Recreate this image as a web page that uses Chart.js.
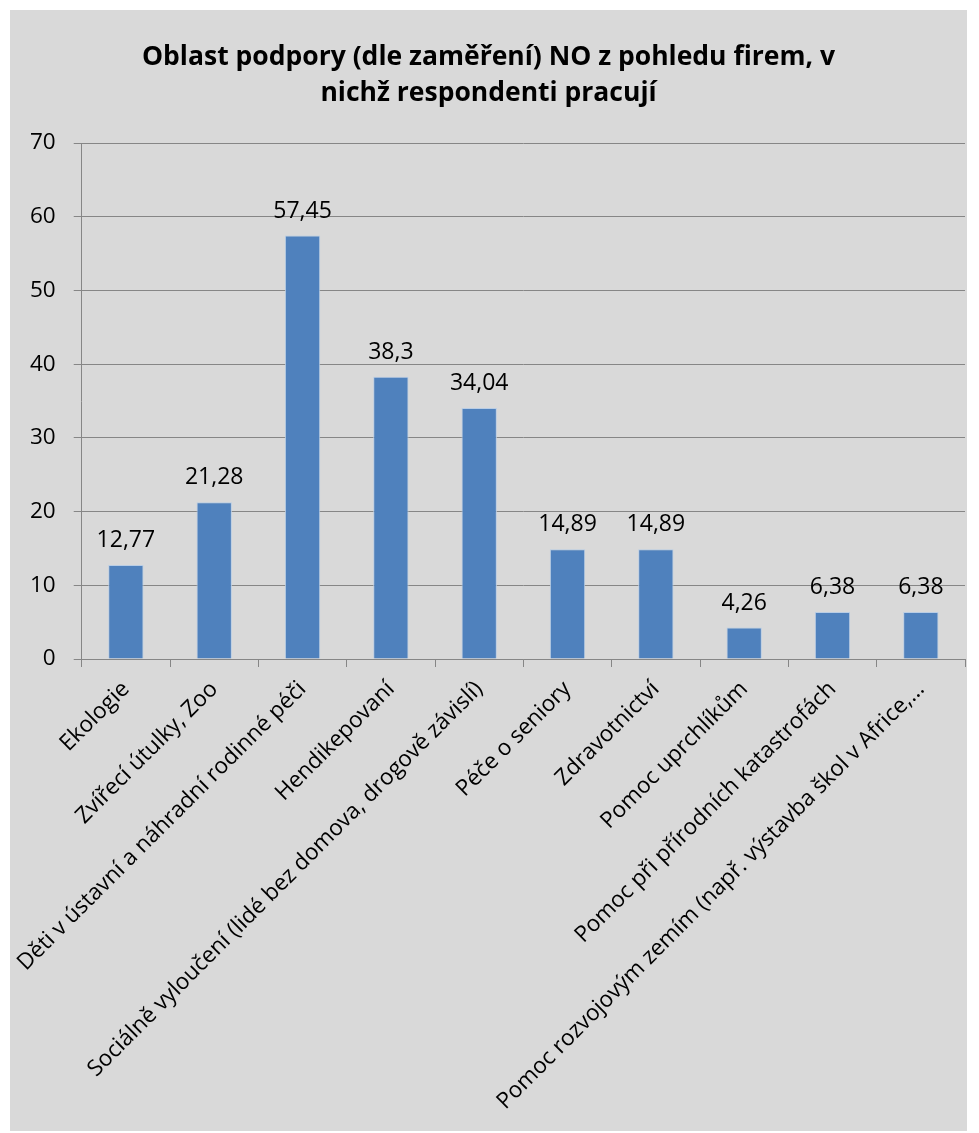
<!DOCTYPE html>
<html>
<head>
<meta charset="utf-8">
<script src="https://cdn.jsdelivr.net/npm/chart.js@4/dist/chart.umd.min.js"></script>
<style>
  body { margin: 0; background: #ffffff; }
  #box { position: absolute; left: 10px; top: 10px; width: 957px; height: 1121px; background: #d9d9d9; }
</style>
</head>
<body>
<div id="box"><canvas id="ourChart" width="957" height="1121"></canvas></div>
<script>
var categories = ["Ekologie", "Zvířecí útulky, Zoo", "Děti v ústavní a náhradní rodinné péči", "Hendikepovaní",
    "Sociálně vyloučení (lidé bez domova, drogově závislí)", "Péče o seniory", "Zdravotnictví", "Pomoc uprchlíkům",
    "Pomoc při přírodních katastrofách", "Pomoc rozvojovým zemím (např. výstavba škol v Africe,…"];
var values = [12.77, 21.28, 57.45, 38.3, 34.04, 14.89, 14.89, 4.26, 6.38, 6.38];
var yTicks = [0, 10, 20, 30, 40, 50, 60, 70];

var fontName = '"Open Sans", sans-serif';

// popisky hodnot nad sloupci
var valueLabels = {
    id: 'valueLabels',
    afterDatasetsDraw: function (chart) {
        var ctx = chart.ctx;
        var meta = chart.getDatasetMeta(0);
        ctx.save();
        ctx.font = '23px ' + fontName;
        ctx.fillStyle = '#000000';
        ctx.textAlign = 'center';
        ctx.textBaseline = 'alphabetic';
        meta.data.forEach(function (bar, i) {
            ctx.fillText(String(values[i]).replace('.', ','), bar.x, bar.y - 18);
        });
        ctx.restore();
    }
};

var ourCanvas = document.getElementById('ourChart');

var chartElement = new Chart(ourCanvas, {
    type: 'bar',
    data: {
        labels: categories,
        datasets: [
            {
                data: values,
                backgroundColor: '#4f81bd',
                borderColor: '#b9cde5',
                borderWidth: 1,
                barPercentage: 0.4,
                categoryPercentage: 1
            }
        ]
    },
    options: {
        responsive: false,
        animation: false,
        layout: { padding: { left: 2, right: 2, top: 0, bottom: 20 } },
        plugins: {
            legend: { display: false },
            tooltip: { enabled: false },
            title: {
                display: true,
                text: ['Oblast podpory (dle zaměření) NO z pohledu firem, v', 'nichž respondenti pracují'],
                color: '#000000',
                font: { family: fontName, size: 26.5, weight: 'bold', lineHeight: 1.36 },
                padding: { top: 29, bottom: 32 }
            }
        },
        scales: {
            x: {
                grid: { drawOnChartArea: false, drawTicks: true, tickLength: 8, color: '#868686', offset: true },
                border: { color: '#868686', width: 1 },
                ticks: {
                    color: '#000000',
                    font: { family: fontName, size: 22.5 },
                    minRotation: 45,
                    maxRotation: 45,
                    autoSkip: false,
                    padding: 9
                },
                afterFit: function (scale) {
                    scale.paddingLeft = 0;
                    scale.paddingRight = 0;
                    scale.height = 452;
                }
            },
            y: {
                min: 0,
                max: 70,
                afterBuildTicks: function (axis) {
                    axis.ticks = yTicks.map(function (v) { return { value: v }; });
                },
                grid: { color: '#868686', tickLength: 8 },
                border: { color: '#868686', width: 1 },
                ticks: {
                    color: '#000000',
                    font: { family: fontName, size: 22.5 },
                    padding: 18
                }
            }
        }
    },
    plugins: [valueLabels]
});
</script>
</body>
</html>
